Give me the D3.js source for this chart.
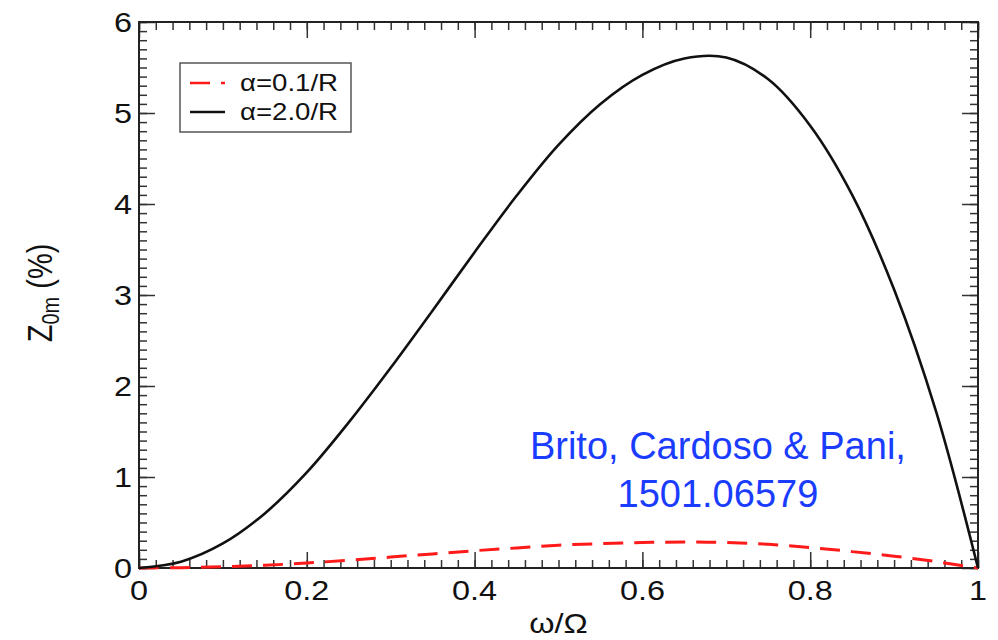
<!DOCTYPE html>
<html lang="en">
<head>
<meta charset="utf-8">
<script src="https://d3js.org/d3.v7.min.js"></script>
<style>
  body { margin: 0; background: #fff; }
  text { font-family: "Liberation Sans", Arial, Helvetica, sans-serif; }
</style>
</head>
<body>
<div id="chart"></div>
<script>
// data
const omega = [0, 0.05, 0.1, 0.15, 0.2, 0.25, 0.3, 0.35, 0.4, 0.45, 0.5, 0.55, 0.6, 0.65, 0.7, 0.75, 0.8, 0.85, 0.9, 0.95, 1.0];
const zAlpha20 = [0, 0.07, 0.27, 0.60, 1.05, 1.60, 2.20, 2.83, 3.47, 4.09, 4.65, 5.10, 5.42, 5.60, 5.61, 5.37, 4.86, 4.10, 3.06, 1.72, 0];
const zAlpha01 = [0, 0.004, 0.015, 0.03, 0.055, 0.085, 0.12, 0.155, 0.19, 0.22, 0.25, 0.268, 0.28, 0.285, 0.28, 0.26, 0.225, 0.18, 0.13, 0.07, 0];
const xTicks = [0, 0.2, 0.4, 0.6, 0.8, 1];
const xTickLabels = ["0", "0.2", "0.4", "0.6", "0.8", "1"];
const yTicks = [0, 1, 2, 3, 4, 5, 6];
const seriesNames = ["\u03b1=0.1/R", "\u03b1=2.0/R"];

const W = 998, H = 640;
const margin = {top: 22, right: 20, bottom: 72, left: 139};
const width = W - margin.left - margin.right;
const height = H - margin.top - margin.bottom;
const sx = 1.2; // horizontal stretch of the original lettering

const svg = d3.select("#chart").append("svg")
  .attr("width", W).attr("height", H);
const g = svg.append("g").attr("transform", `translate(${margin.left},${margin.top})`);

const x = d3.scaleLinear().domain([0, 1]).range([0, width]);
const y = d3.scaleLinear().domain([0, 6]).range([height, 0]);

// ticks on all four sides, pointing inward
const minorX = d3.range(0, 1.0001, 0.02);
const minorY = d3.range(0, 6.0001, 0.1);
function ticks(axis, vals, size) {
  return axis.tickValues(vals).tickSize(size).tickFormat("").tickSizeOuter(0);
}
const axes = [
  [ticks(d3.axisBottom(x), minorX, -8), `translate(0,${height})`],
  [ticks(d3.axisBottom(x), xTicks, -16), `translate(0,${height})`],
  [ticks(d3.axisTop(x), minorX, -8), null],
  [ticks(d3.axisTop(x), xTicks, -16), null],
  [ticks(d3.axisLeft(y), minorY, -8), null],
  [ticks(d3.axisLeft(y), yTicks, -16), null],
  [ticks(d3.axisRight(y), minorY, -8), `translate(${width},0)`],
  [ticks(d3.axisRight(y), yTicks, -16), `translate(${width},0)`]
];
axes.forEach(([ax, tr]) => {
  const a = g.append("g").call(ax);
  if (tr) a.attr("transform", tr);
  a.select(".domain").remove();
  a.selectAll("line").attr("stroke", "#333").attr("stroke-width", 1.5);
});

// frame
g.append("rect").attr("x", 0).attr("y", 0).attr("width", width).attr("height", height)
  .attr("fill", "none").attr("stroke", "#222").attr("stroke-width", 2);

// tick labels
g.selectAll(".xl").data(xTicks).enter().append("text")
  .attr("transform", d => `translate(${x(d)},${height + 32}) scale(${sx},1)`)
  .attr("text-anchor", "middle").attr("font-size", 27).attr("fill", "#111")
  .text((d, i) => xTickLabels[i]);
g.selectAll(".yl").data(yTicks).enter().append("text")
  .attr("transform", d => `translate(-7,${y(d) + 10}) scale(${sx},1)`)
  .attr("text-anchor", "end").attr("font-size", 27).attr("fill", "#111")
  .text(d => d);

// axis titles
g.append("text")
  .attr("transform", `translate(${x(0.5)},${height + 65}) scale(${sx},1)`)
  .attr("text-anchor", "middle").attr("font-size", 27).attr("fill", "#111")
  .text("\u03c9/\u03a9");
const yt = g.append("text")
  .attr("transform", `translate(-87,${height / 2 - 2}) scale(${sx},1) rotate(-90)`)
  .attr("text-anchor", "middle").attr("font-size", 29).attr("fill", "#111");
yt.append("tspan").text("Z");
yt.append("tspan").attr("font-size", 20).attr("dy", 6).text("0m");
yt.append("tspan").attr("dy", -6).text(" (%)");

// curves
const line = d3.line().x(d => x(d[0])).y(d => y(d[1])).curve(d3.curveCatmullRom);
g.append("path").datum(omega.map((w, i) => [w, zAlpha01[i]]))
  .attr("d", line).attr("fill", "none").attr("stroke", "#ff1a1a")
  .attr("stroke-width", 3).attr("stroke-dasharray", "20,11");
g.append("path").datum(omega.map((w, i) => [w, zAlpha20[i]]))
  .attr("d", line).attr("fill", "none").attr("stroke", "#111")
  .attr("stroke-width", 2.6);

// legend
const lg = g.append("g").attr("transform", "translate(41,41)");
lg.append("rect").attr("width", 171).attr("height", 69)
  .attr("fill", "#fff").attr("stroke", "#555").attr("stroke-width", 1.5);
const legendStyle = [
  {stroke: "#ff1a1a", dash: "20,11"},
  {stroke: "#111", dash: null}
];
seriesNames.forEach((name, i) => {
  const yy = 20 + i * 29;
  lg.append("line").attr("x1", 10).attr("x2", 45).attr("y1", yy).attr("y2", yy)
    .attr("stroke", legendStyle[i].stroke).attr("stroke-width", 2.6)
    .attr("stroke-dasharray", legendStyle[i].dash);
  lg.append("text")
    .attr("transform", `translate(60,${yy + 8}) scale(${sx},1)`)
    .attr("font-size", 23).attr("fill", "#111").text(name);
});

// annotation
const note = g.append("text").attr("text-anchor", "middle")
  .attr("font-size", 38).attr("fill", "#1a3cff");
note.append("tspan").attr("x", x(0.69)).attr("y", 437).text("Brito, Cardoso & Pani,");
note.append("tspan").attr("x", x(0.69)).attr("y", 485).text("1501.06579");
</script>
</body>
</html>
